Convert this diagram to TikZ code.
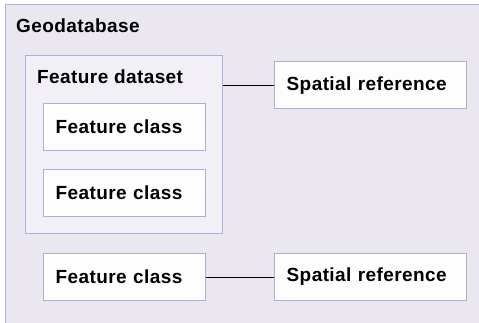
\documentclass[tikz,border=0pt]{standalone}
\usepackage{fontspec}
\setmainfont{Liberation Sans}
\newfontfamily\lblfont[LetterSpace=2.2]{Liberation Sans}
\definecolor{gdbfill}{RGB}{234,231,240}
\definecolor{dsfill}{RGB}{242,240,246}
\definecolor{boxfill}{RGB}{253,253,254}
\definecolor{edge}{RGB}{178,172,216}
\tikzset{
  container/.style={draw=edge, line width=1.3pt, anchor=north west, inner sep=0pt},
  itembox/.style={draw=edge, fill=boxfill, line width=1.3pt, anchor=north west, inner sep=0pt,
    text width=138pt, inner xsep=12pt, align=left, minimum height=47pt,
    font=\lblfont\fontsize{19}{22}\selectfont\bfseries},
  title/.style={anchor=base west, inner sep=0pt, font=\lblfont\fontsize{19}{22}\selectfont\bfseries},
  link/.style={draw=black, line width=1.2pt}
}
\begin{document}
\begin{tikzpicture}[x=1pt,y=-1pt]
\useasboundingbox (0,0) rectangle (479,322);
\clip (0,0) rectangle (479,322);
\fill[white] (0,0) rectangle (479,322);
\node[container, fill=gdbfill, minimum width=490pt, minimum height=330pt] (gdb) at (4.5,3.5) {};
\node[title] (gdbt) at (16,32.5) {Geodatabase};
\node[container, fill=dsfill, minimum width=197pt, minimum height=178pt] (ds) at (25,55) {};
\node[title] (dst) at (37,83) {Feature dataset};
\node[itembox] (fc1) at (43,103) {Feature class};
\node[itembox] (fc2) at (43,168.5) {Feature class};
\node[itembox] (fc3) at (43,253) {Feature class};
\node[itembox, text width=168pt] (sr1) at (274,61) {Spatial reference};
\node[itembox, text width=168pt] (sr2) at (274,252.5) {Spatial reference};
\draw[link] (sr1.west) -- (sr1.west -| ds.east);
\draw[link] (fc3.east) -- (fc3.east -| sr2.west);
\end{tikzpicture}
\end{document}
